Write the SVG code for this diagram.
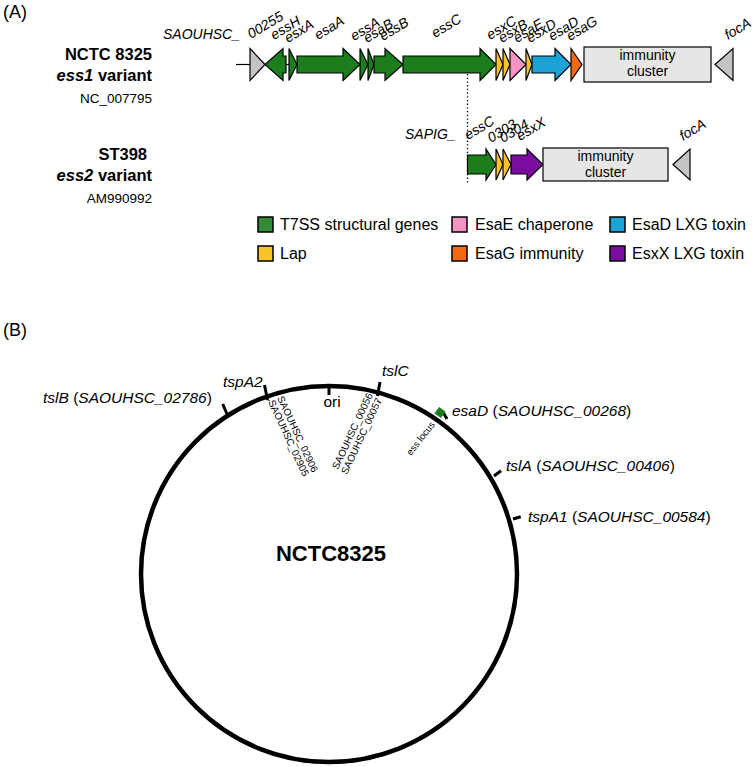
<svg xmlns="http://www.w3.org/2000/svg" width="756" height="767" viewBox="0 0 756 767">
<style>
text{font-family:"Liberation Sans",Arial,sans-serif;fill:#000}
.it{font-style:italic}
.b{font-weight:bold}
.gl{font-size:14px;font-style:italic}
.g{stroke:#000;stroke-width:1.2;stroke-linejoin:miter}
.green{fill:#1b7d1b}.yel{fill:#f7c325}.pink{fill:#f593c3}.blue{fill:#1ba3d6}.ora{fill:#f26b11}.pur{fill:#7a0d9e}.grey{fill:#c4c4c4}.box{fill:#e6e6e6}
.lg{stroke:#000;stroke-width:1.5}
.lt{font-size:16px}
.cl{font-size:15.5px}
.sm{font-size:10px}
.tick{stroke:#000;stroke-width:3;fill:none}
</style>
<rect width="756" height="767" fill="#fff"/>
<text x="3" y="18" font-size="18">(A)</text>
<text x="3" y="336" font-size="18">(B)</text>

<g id="labels-left">
<text x="152" y="60" text-anchor="end" font-size="16.5" class="b">NCTC 8325</text>
<text x="152" y="81" text-anchor="end" font-size="16.5" class="b"><tspan class="it">ess1</tspan> variant</text>
<text x="152" y="103" text-anchor="end" font-size="13.5">NC_007795</text>
<text x="147" y="160" text-anchor="end" font-size="16.5" class="b">ST398</text>
<text x="152" y="181" text-anchor="end" font-size="16.5" class="b"><tspan class="it">ess2</tspan> variant</text>
<text x="152" y="203" text-anchor="end" font-size="13.5">AM990992</text>
</g>

<g id="connectors">
<line x1="236" y1="64.5" x2="250" y2="64.5" stroke="#000" stroke-width="1.2"/>
<line x1="286" y1="64.5" x2="289" y2="64.5" stroke="#000" stroke-width="1.2"/>
<line x1="467.5" y1="74" x2="467.5" y2="185" stroke="#000" stroke-width="1.3" stroke-dasharray="1.3 2.4"/>
</g>

<g id="locus-ess1">
<text x="163" y="39" class="gl">SAOUHSC_</text>
<path id="g00255" class="g grey" d="M250,48.5 L265,64.5 L250,80.5 Z"/>
<path id="essH" class="g green" d="M265,64.5 L283,48.5 L283,56 L286,56 L286,73 L283,73 L283,80.5 Z"/>
<path id="esxA" class="g green" d="M289,48.5 L297,64.5 L289,80.5 Z"/>
<path id="esaA" class="g green" d="M297,56 H343 V48.5 L360,64.5 L343,80.5 V73 H297 Z"/>
<path id="essA" class="g green" d="M360,48.5 L368,64.5 L360,80.5 Z"/>
<path id="esaB" class="g green" d="M368,48.5 L374,64.5 L368,80.5 Z"/>
<path id="essB" class="g green" d="M374,56 H385 V48.5 L403,64.5 L385,80.5 V73 H374 Z"/>
<path id="essC" class="g green" d="M403,56 H480 V48.5 L496,64.5 L480,80.5 V73 H403 Z"/>
<path id="esxC" class="g yel" d="M496,48.5 L503,64.5 L496,80.5 Z"/>
<path id="esxB" class="g yel" d="M503,48.5 L510,64.5 L503,80.5 Z"/>
<path id="esaE" class="g pink" d="M510,48.5 L526,64.5 L510,80.5 Z"/>
<path id="esxD" class="g yel" d="M526,48.5 L532,64.5 L526,80.5 Z"/>
<path id="esaD" class="g blue" d="M532,56 H555 V48.5 L571,64.5 L555,80.5 V73 H532 Z"/>
<path id="esaG" class="g ora" d="M571,48.5 L582,64.5 L571,80.5 Z"/>
<rect class="g box" x="584" y="47" width="127" height="35"/>
<text x="647.5" y="60" font-size="14" text-anchor="middle">immunity</text>
<text x="647.5" y="76" font-size="14" text-anchor="middle">cluster</text>
<path id="focA1" class="g grey" d="M715,64.5 L733,48.5 L733,80.5 Z"/>
<text class="gl" transform="translate(251,39) rotate(-31)">00255</text>
<text class="gl" transform="translate(274,40) rotate(-31)">essH</text>
<text class="gl" transform="translate(288,43) rotate(-31)">esxA</text>
<text class="gl" transform="translate(318,40) rotate(-31)">esaA</text>
<text class="gl" transform="translate(354,41) rotate(-31)">essA</text>
<text class="gl" transform="translate(367,43) rotate(-31)">esaB</text>
<text class="gl" transform="translate(383,41) rotate(-31)">essB</text>
<text class="gl" transform="translate(435,38) rotate(-31)">essC</text>
<text class="gl" transform="translate(490,40) rotate(-31)">esxC</text>
<text class="gl" transform="translate(502,43) rotate(-31)">esxB</text>
<text class="gl" transform="translate(517,43) rotate(-31)">esaE</text>
<text class="gl" transform="translate(530,43) rotate(-31)">esxD</text>
<text class="gl" transform="translate(552,41) rotate(-31)">esaD</text>
<text class="gl" transform="translate(570,41) rotate(-31)">esaG</text>
<text class="gl" transform="translate(728,40) rotate(-31)">focA</text>
</g>

<g id="locus-ess2">
<text x="405" y="139" class="gl">SAPIG_</text>
<path id="essC2" class="g green" d="M467.5,155 H486 V149 L496,164.5 L486,180 V174 H467.5 Z"/>
<path id="g0303" class="g yel" d="M496,149 L503,164.5 L496,180 Z"/>
<path id="g0304" class="g yel" d="M503,149 L511,164.5 L503,180 Z"/>
<path id="esxX" class="g pur" d="M511,155 H527 V149 L543,164.5 L527,180 V174 H511 Z"/>
<rect class="g box" x="543" y="148" width="125" height="33"/>
<text x="605.5" y="161" font-size="14" text-anchor="middle">immunity</text>
<text x="605.5" y="177" font-size="14" text-anchor="middle">cluster</text>
<path id="focA2" class="g grey" d="M673,164.5 L690,149 L690,180 Z"/>
<text class="gl" transform="translate(468,140) rotate(-31)">essC</text>
<text class="gl" transform="translate(491,143) rotate(-31)">0303</text>
<text class="gl" transform="translate(503,143) rotate(-31)">0304</text>
<text class="gl" transform="translate(520,141) rotate(-31)">esxX</text>
<text class="gl" transform="translate(683,141) rotate(-31)">focA</text>
</g>

<g id="legend">
<rect class="lg" x="258" y="217" width="15" height="15" fill="#358a3a"/>
<text class="lt" x="280" y="230">T7SS structural genes</text>
<rect class="lg" x="452" y="217" width="15" height="15" fill="#f593c3"/>
<text class="lt" x="475" y="230">EsaE chaperone</text>
<rect class="lg" x="610" y="217" width="15" height="15" fill="#1ba3d6"/>
<text class="lt" x="632" y="230">EsaD LXG toxin</text>
<rect class="lg" x="258" y="246" width="15" height="15" fill="#f7c325"/>
<text class="lt" x="280" y="259">Lap</text>
<rect class="lg" x="452" y="246" width="15" height="15" fill="#f26b11"/>
<text class="lt" x="475" y="259">EsaG immunity</text>
<rect class="lg" x="610" y="246" width="15" height="15" fill="#7a0d9e"/>
<text class="lt" x="632" y="259">EsxX LXG toxin</text>
</g>

<g id="chromosome">
<circle cx="329" cy="574" r="188" fill="none" stroke="#000" stroke-width="4.5"/>
<text x="331" y="561" font-size="22" class="b" text-anchor="middle">NCTC8325</text>
<line class="tick" x1="329" y1="386" x2="329" y2="395"/>
<line class="tick" x1="264.5" y1="385" x2="267.5" y2="400"/>
<line class="tick" x1="380" y1="382" x2="377.5" y2="396"/>
<line class="tick" x1="222.7" y1="404" x2="227" y2="414"/>
<line class="tick" x1="443.5" y1="413" x2="447" y2="419"/>
<line class="tick" x1="494" y1="476" x2="501" y2="470.7"/>
<line class="tick" x1="513" y1="519" x2="520.7" y2="516.7"/>
<line x1="266" y1="399" x2="270" y2="401" stroke="#000" stroke-width="0.8"/>
<line x1="377" y1="401" x2="381" y2="403" stroke="#000" stroke-width="0.8"/>
<rect x="436" y="408.5" width="8" height="8" fill="#1b7d1b" transform="rotate(35 440 412.5)"/>
<text class="cl" x="332" y="407" text-anchor="middle">ori</text>
<text class="cl it" x="223" y="387">tspA2</text>
<text class="cl it" x="382" y="376">tslC</text>
<text class="cl" x="43" y="403"><tspan class="it">tslB</tspan> (<tspan class="it">SAOUHSC_02786</tspan>)</text>
<text class="cl" x="452" y="416"><tspan class="it">esaD</tspan> (<tspan class="it">SAOUHSC_00268</tspan>)</text>
<text class="cl" x="506" y="471"><tspan class="it">tslA</tspan> (<tspan class="it">SAOUHSC_00406</tspan>)</text>
<text class="cl" x="528" y="522"><tspan class="it">tspA1</tspan> (<tspan class="it">SAOUHSC_00584</tspan>)</text>
<text class="sm" transform="translate(277,398) rotate(65)">SAOUHSC_02906</text>
<text class="sm" transform="translate(268,402) rotate(65)">SAOUHSC_02905</text>
<text class="sm" text-anchor="end" transform="translate(373,395) rotate(-65)">SAOUHSC_00056</text>
<text class="sm" text-anchor="end" transform="translate(382,400) rotate(-65)">SAOUHSC_00057</text>
<text font-size="9.5" transform="translate(411,456) rotate(-52)">ess locus</text>
</g>
</svg>
